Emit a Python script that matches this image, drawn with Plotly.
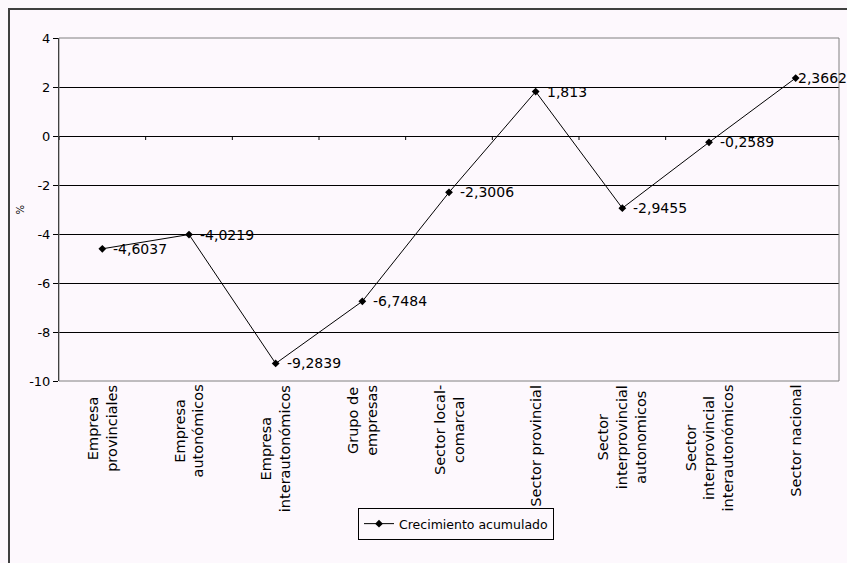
import plotly.graph_objects as go

categories = [
    "Empresa<br>provinciales",
    "Empresa<br>autonómicos",
    "Empresa<br>interautonómicos",
    "Grupo de<br>empresas",
    "Sector local-<br>comarcal",
    "Sector provincial",
    "Sector<br>interprovincial<br>autonomicos",
    "Sector<br>interprovincial<br>interautonómicos",
    "Sector nacional",
]
values = [-4.6037, -4.0219, -9.2839, -6.7484, -2.3006, 1.813, -2.9455, -0.2589, 2.3662]
series_name = "Crecimiento acumulado"
y_ticks = [-10, -8, -6, -4, -2, 0, 2, 4]
y_title = "%"

labels = [str(v).replace(".", ",") for v in values]
xs = list(range(len(categories)))

W, H = 847, 563
L, R, T = 59, 8, 38
plot_bottom = 381
B = H - plot_bottom
pw, ph = W - L - R, H - T - B
bg = "#FDF8FD"
font = "DejaVu Sans, Liberation Sans, Arial, sans-serif"

fig = go.Figure()
fig.add_trace(go.Scatter(
    x=xs, y=values, mode="lines+markers", name=series_name,
    line=dict(color="black", width=1),
    marker=dict(symbol="diamond", size=6, color="black"),
    cliponaxis=False,
))

shapes = []
shapes.append(dict(type="rect", xref="paper", yref="paper", x0=0, x1=1, y0=0, y1=1,
                   line=dict(color="#808080", width=1), layer="above"))
shapes.append(dict(type="rect", xref="paper", yref="paper",
                   x0=(9 - L) / pw, x1=(W + 20 - L) / pw,
                   y0=-(H + 20 - plot_bottom) / ph, y1=1 + (T - 9) / ph,
                   line=dict(color="#404040", width=2)))
for k in range(len(categories) + 1):
    shapes.append(dict(type="line", xref="x", yref="y", x0=k - 0.5, x1=k - 0.5,
                       ysizemode="pixel", yanchor=0, y0=0, y1=-4,
                       line=dict(color="black", width=1)))

annotations = []
# data labels (the last one is pulled left to stay inside the chart, as in the original)
for i, (v, t) in enumerate(zip(values, labels)):
    last = i == len(values) - 1
    annotations.append(dict(x=i, y=v, xref="x", yref="y", text=t, showarrow=False,
                            xanchor="left", yanchor="middle", xshift=0 if last else 9,
                            font=dict(family=font, size=14, color="black")))
for i, c in enumerate(categories):
    annotations.append(dict(x=i, xref="x", y=-2 / ph, yref="paper", text=c,
                            textangle=-90, showarrow=False, xanchor="center", yanchor="top",
                            align="center", font=dict(family=font, size=14.5, color="black")))
annotations.append(dict(x=(20 - L) / pw, xref="paper", y=0.5, yref="paper", text=y_title,
                        textangle=-90, showarrow=False, xanchor="center", yanchor="middle",
                        font=dict(family=font, size=10, color="black")))

fig.update_layout(
    width=W, height=H,
    margin=dict(l=L, r=R, t=T, b=B, autoexpand=False),
    paper_bgcolor=bg, plot_bgcolor=bg,
    font=dict(family=font, color="black"),
    showlegend=True,
    legend=dict(x=(456 - L) / pw, xanchor="center", y=-(508 - plot_bottom) / ph, yanchor="top",
                bordercolor="black", borderwidth=1, bgcolor=bg,
                font=dict(family=font, size=12.5, color="black")),
    shapes=shapes,
    annotations=annotations,
    xaxis=dict(range=[-0.5, len(categories) - 0.5], showticklabels=False, showgrid=False,
               zeroline=False, showline=False, ticks="", automargin=False),
    yaxis=dict(range=[-10, 4], tickvals=y_ticks, ticktext=[str(t) for t in y_ticks],
               showgrid=True, gridcolor="black", gridwidth=1,
               zeroline=False, showline=True, linecolor="black", linewidth=1,
               ticks="outside", ticklen=5, tickcolor="black", automargin=False,
               tickfont=dict(family=font, size=13, color="black")),
)

page_js = ("document.body.style.margin='0';document.body.style.overflow='hidden';"
           "document.body.style.background='%s';" % bg)
fig.write_html("out.html", post_script=page_js, config={"displayModeBar": False})
